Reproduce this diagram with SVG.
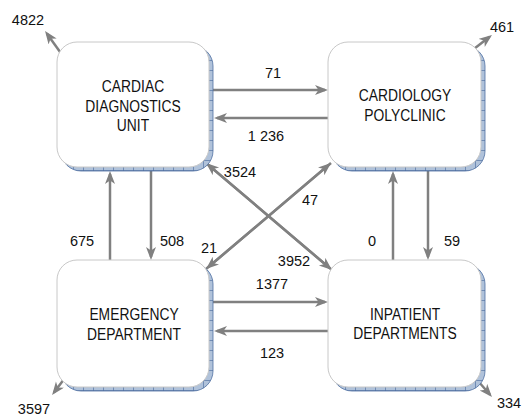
<svg xmlns="http://www.w3.org/2000/svg" width="523" height="416" viewBox="0 0 523 416">
<defs>
<marker id="ah" markerUnits="userSpaceOnUse" markerWidth="14" markerHeight="12" refX="10" refY="5" orient="auto">
<path d="M0,0 L13,5 L0,10 L3.5,5 z" fill="#808080"/>
</marker>
<pattern id="hatchL" x="3" y="0" width="10" height="10" patternUnits="userSpaceOnUse">
<rect width="10" height="10" fill="#b0c2da"/>
<path d="M0,0.4H10M0.4,0V10" stroke="#4a6b9c" stroke-width="0.7"/>
</pattern>
<pattern id="hatchR" x="5" y="0" width="10" height="10" patternUnits="userSpaceOnUse">
<rect width="10" height="10" fill="#b0c2da"/>
<path d="M0,0.4H10M0.4,0V10" stroke="#4a6b9c" stroke-width="0.7"/>
</pattern>
<style>
.box{fill:#fff;stroke:#c8c8c8;stroke-width:1}
.shL{fill:url(#hatchL);stroke:#4f70a2;stroke-width:0.8}
.shR{fill:url(#hatchR);stroke:#4f70a2;stroke-width:0.8}
.lbl{font-family:"Liberation Sans",Arial,sans-serif;font-size:16.5px;fill:#111;text-anchor:middle}
.num{font-family:"Liberation Sans",Arial,sans-serif;font-size:14.5px;fill:#111;text-anchor:middle}
.c{stroke:#808080;stroke-width:2.5;fill:none;marker-end:url(#ah)}
</style>
</defs>
<rect width="523" height="416" fill="#fff"/>
<g id="connectors">
<line class="c" x1="213" y1="90" x2="325" y2="90"/>
<line class="c" x1="328" y1="118" x2="217" y2="118"/>
<line class="c" x1="110" y1="260" x2="110" y2="174"/>
<line class="c" x1="151" y1="171" x2="151" y2="257"/>
<line class="c" x1="393" y1="260" x2="393" y2="174"/>
<line class="c" x1="428" y1="171" x2="428" y2="257"/>
<line class="c" x1="213" y1="302" x2="325" y2="302"/>
<line class="c" x1="328" y1="331" x2="217" y2="331"/>
<line class="c" x1="206" y1="163" x2="329.7" y2="268.1"/>
<line class="c" x1="332" y1="270" x2="208.3" y2="164.9"/>
<line class="c" x1="206" y1="269" x2="328.7" y2="164.9"/>
<line class="c" x1="331" y1="163" x2="208.3" y2="267.1"/>
<line class="c" x1="68" y1="63" x2="46.8" y2="33.4"/>
<line class="c" x1="470" y1="52" x2="489.6" y2="36.8"/>
<line class="c" x1="68" y1="374" x2="53.9" y2="392.6"/>
<line class="c" x1="472" y1="374" x2="490" y2="394.7"/>
<g class="num">
<text x="273" y="78">71</text>
<text x="266" y="141">1 236</text>
<text x="82" y="246">675</text>
<text x="172" y="246">508</text>
<text x="372" y="246">0</text>
<text x="452" y="246">59</text>
<text x="272" y="289">1377</text>
<text x="272" y="358">123</text>
<text x="240" y="177">3524</text>
<text x="310" y="205">47</text>
<text x="209" y="253">21</text>
<text x="294" y="266">3952</text>
<text x="28" y="25">4822</text>
<text x="502" y="32">461</text>
<text x="34" y="414">3597</text>
<text x="509" y="408">334</text>
</g>
</g>
<g id="cdu">
<rect class="shL" x="61" y="46" width="152" height="125" rx="20"/>
<rect class="box" x="57" y="42" width="152" height="125" rx="20"/>
<text class="lbl" transform="translate(133,0) scale(0.84,1)"><tspan x="0" y="92">CARDIAC</tspan><tspan x="0" y="112">DIAGNOSTICS</tspan><tspan x="0" y="131">UNIT</tspan></text>
</g>
<g id="cp">
<rect class="shR" x="332" y="46" width="153" height="125" rx="20"/>
<rect class="box" x="328" y="42" width="153" height="125" rx="20"/>
<text class="lbl" transform="translate(405,0) scale(0.84,1)"><tspan x="0" y="101">CARDIOLOGY</tspan><tspan x="0" y="121">POLYCLINIC</tspan></text>
</g>
<g id="ed">
<rect class="shL" x="61" y="264" width="152" height="127" rx="20"/>
<rect class="box" x="57" y="260" width="152" height="127" rx="20"/>
<text class="lbl" transform="translate(134,0) scale(0.84,1)"><tspan x="0" y="320">EMERGENCY</tspan><tspan x="0" y="340">DEPARTMENT</tspan></text>
</g>
<g id="id">
<rect class="shR" x="332" y="264" width="153" height="127" rx="20"/>
<rect class="box" x="328" y="260" width="153" height="127" rx="20"/>
<text class="lbl" transform="translate(405,0) scale(0.84,1)"><tspan x="0" y="320">INPATIENT</tspan><tspan x="0" y="339">DEPARTMENTS</tspan></text>
</g>
</svg>
